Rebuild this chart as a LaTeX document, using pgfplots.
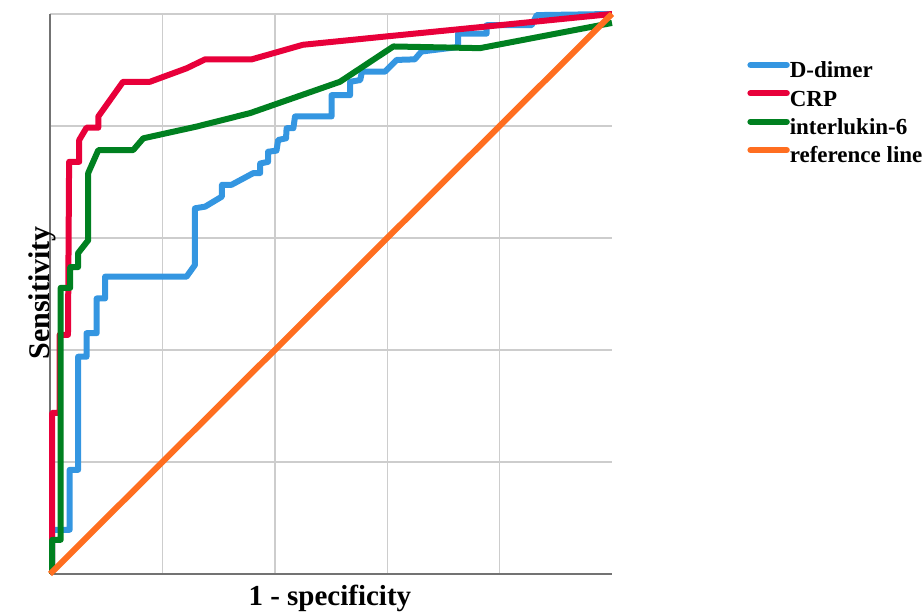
\documentclass[border=0pt]{standalone}
\usepackage{fontspec}
\setmainfont{Liberation Serif}
\usepackage{pgfplots}
\pgfplotsset{compat=1.18}
\definecolor{cblue}{RGB}{52,150,225}
\definecolor{cred}{RGB}{232,0,58}
\definecolor{cgreen}{RGB}{0,128,32}
\definecolor{corange}{RGB}{255,110,32}
\definecolor{gridgray}{RGB}{205,205,205}
\definecolor{axgray}{RGB}{115,115,115}
\begin{document}
\begin{tikzpicture}
\begin{axis}[
  at={(0,0)}, anchor=south west,
  scale only axis, width=281pt, height=280pt,
  xmin=0, xmax=1, ymin=0, ymax=1,
  axis x line*=bottom, axis y line*=left,
  axis line style={axgray, line width=0.8pt, -},
  xtick={0.2,0.4,0.6,0.8}, ytick={0.2,0.4,0.6,0.8,1},
  xticklabels={}, yticklabels={}, major tick length=0pt,
  grid=major, grid style={gridgray, line width=0.7pt},
  clip=false,
  xlabel={1 - specificity}, ylabel={Sensitivity},
  xlabel style={at={(axis description cs:0.498,0)}, anchor=base, yshift=-16pt, font=\fontsize{14.5}{17}\selectfont\bfseries},
  ylabel style={at={(axis description cs:0,0.525)}, anchor=base, xshift=-6.5pt, font=\fontsize{15}{17}\selectfont\bfseries},
  every axis plot/.append style={line width=3pt, line join=round},
  legend image code/.code={\draw[#1, line width=3pt, line cap=round] (0.8pt,3.6pt) -- (19pt,3.6pt);},
  legend style={draw=none, fill=none, at={(rel axis cs:1.2402,0.9157)}, anchor=north west,
    inner sep=0pt, row sep=3.7pt, column sep=0pt,
    nodes={inner sep=0pt, text height=8pt, text depth=2.5pt, anchor=west},
    font=\fontsize{11.5}{13}\selectfont\bfseries},
  legend cell align=left,
]
% D-dimer
\addplot[cblue] coordinates {
(0.004,0) (0.004,0.079) (0.035,0.079) (0.035,0.186) (0.050,0.186) (0.050,0.388)
(0.065,0.388) (0.065,0.430) (0.083,0.430) (0.083,0.492) (0.098,0.492)
(0.098,0.531) (0.243,0.531) (0.258,0.552) (0.258,0.653) (0.276,0.656)
(0.306,0.674) (0.306,0.695) (0.323,0.695) (0.362,0.716) (0.374,0.716)
(0.374,0.733) (0.388,0.736) (0.388,0.754) (0.403,0.756) (0.406,0.775)
(0.420,0.778) (0.421,0.796) (0.433,0.796) (0.436,0.817) (0.501,0.817)
(0.501,0.855) (0.534,0.855) (0.534,0.879) (0.552,0.882) (0.555,0.897)
(0.596,0.897) (0.617,0.918) (0.649,0.919) (0.661,0.933) (0.726,0.941)
(0.726,0.965) (0.777,0.965) (0.777,0.980) (0.857,0.980) (0.866,0.998) (1,1)
};
\addlegendentry{D-dimer}
% CRP
\addplot[cred] coordinates {
(0.004,0) (0.004,0.2875) (0.017,0.2875) (0.017,0.427) (0.032,0.427)
(0.034,0.736) (0.052,0.736) (0.052,0.775) (0.065,0.797) (0.086,0.797)
(0.086,0.817) (0.130,0.879) (0.178,0.879) (0.243,0.903) (0.276,0.919)
(0.359,0.919) (0.450,0.945) (0.599,0.960) (0.770,0.977) (1,1)
};
\addlegendentry{CRP}
% interleukin-6
\addplot[cgreen] coordinates {
(0.004,0) (0.004,0.061) (0.019,0.061) (0.019,0.511) (0.036,0.511)
(0.036,0.548) (0.050,0.548) (0.050,0.573) (0.068,0.596) (0.068,0.716)
(0.086,0.757) (0.148,0.757) (0.166,0.778) (0.261,0.799) (0.356,0.823)
(0.516,0.879) (0.611,0.942) (0.765,0.939) (1,0.984)
};
\addlegendentry{interlukin-6}
% reference line
\addplot[corange] coordinates {(0,0) (1,1)};
\addlegendentry{reference line}
\end{axis}
\pgfresetboundingbox
\path[use as bounding box] (-25pt,-20.5pt) rectangle (436pt,287pt);
\end{tikzpicture}
\end{document}
